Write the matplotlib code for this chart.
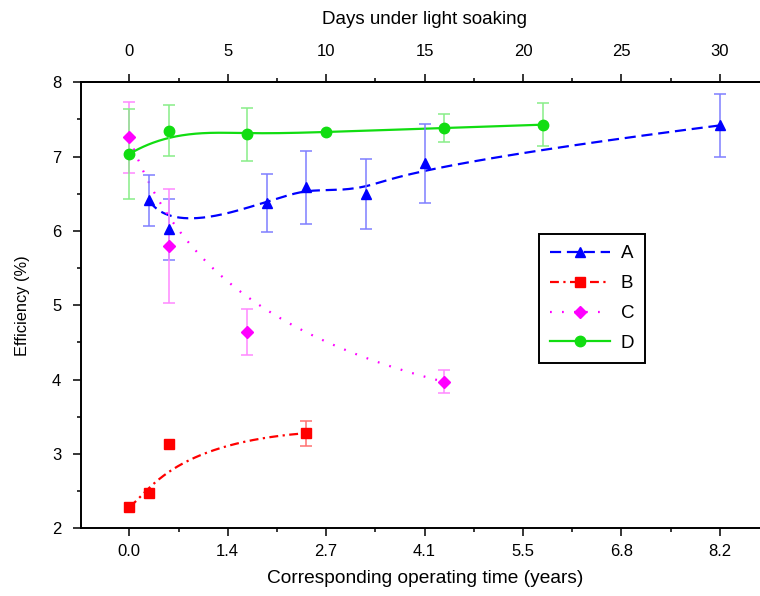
import numpy as np
import matplotlib
matplotlib.use("Agg")
import matplotlib.pyplot as plt
from matplotlib.lines import Line2D
from matplotlib.ticker import MultipleLocator, FixedLocator

plt.rcParams['font.family'] = ['Liberation Sans', 'DejaVu Sans']

# ---- data (x in days under light soaking) ----
a_days = [1, 2, 7, 9, 12, 15, 30]
a_eff = [6.41, 6.02, 6.37, 6.59, 6.50, 6.91, 7.42]
a_err = [0.34, 0.41, 0.39, 0.49, 0.47, 0.53, 0.42]

b_days = [0, 1, 2, 9]
b_eff = [2.29, 2.47, 3.14, 3.28]
b_err = [0.0, 0.0, 0.0, 0.17]

c_days = [0, 2, 6, 16]
c_eff = [7.26, 5.80, 4.645, 3.97]
c_err = [0.48, 0.77, 0.31, 0.155]

d_days = [0, 2, 6, 10, 16, 21]
d_eff = [7.035, 7.35, 7.30, 7.33, 7.385, 7.43]
d_err = [0.60, 0.34, 0.355, 0.0, 0.19, 0.29]

top_ticks = [0, 5, 10, 15, 20, 25, 30]
bottom_labels = ['0.0', '1.4', '2.7', '4.1', '5.5', '6.8', '8.2']
labels = ['A', 'B', 'C', 'D']


def bspline(xs, ys, n=300, k=3):
    """Clamped cubic B-spline using the data points as control points."""
    P = np.column_stack([xs, ys]).astype(float)
    m = len(P)
    k = min(k, m - 1)
    knots = np.concatenate([np.zeros(k), np.linspace(0, 1, m - k + 1), np.ones(k)])
    ts = np.linspace(0, 1 - 1e-9, n)
    out = []
    for t in ts:
        i = np.searchsorted(knots, t, side='right') - 1
        i = min(i, m - 1)
        d = [P[j + i - k].copy() for j in range(k + 1)]
        for r in range(1, k + 1):
            for j in range(k, r - 1, -1):
                den = knots[j + 1 + i - r] - knots[j + i - k]
                alpha = 0.0 if den == 0 else (t - knots[j + i - k]) / den
                d[j] = (1 - alpha) * d[j - 1] + alpha * d[j]
        out.append(d[k])
    out = np.array(out)
    return out[:, 0], out[:, 1]


fig = plt.figure(figsize=(7.6, 5.96), dpi=100)
ax = fig.add_axes([80.7 / 760, 67.7 / 596, 688.3 / 760, 446.0 / 596])

series = [
    dict(x=a_days, y=a_eff, e=a_err, c='#0000FF', ec='#7E7EFF', m='^', ms=7.5,
         ls=(0, (5, 2.6))),
    dict(x=b_days, y=b_eff, e=b_err, c='#FF0000', ec='#FF7070', m='s', ms=6.5,
         ls=(0, (4, 2, 1, 2))),
    dict(x=c_days, y=c_eff, e=c_err, c='#FF00FF', ec='#FF88FF', m='D', ms=6.5,
         ls=(0, (0.8, 4.6))),
    dict(x=d_days, y=d_eff, e=d_err, c='#11DD11', ec='#88EE88', m='o', ms=7.5,
         ls='-'),
]

handles = []
for s, lab in zip(series, labels):
    xx, yy = bspline(s['x'], s['y'])
    ax.plot(xx, yy, color=s['c'], lw=1.6, ls=s['ls'], zorder=2)
    err = np.array(s['e'])
    mask = err > 0
    ax.errorbar(np.array(s['x'])[mask], np.array(s['y'])[mask], yerr=err[mask],
                fmt='none', ecolor=s['ec'], elinewidth=1.1, capsize=4.5,
                capthick=1.1, zorder=3)
    ax.plot(s['x'], s['y'], ls='none', marker=s['m'], ms=s['ms'],
            color=s['c'], mec=s['c'], zorder=4)
    handles.append(Line2D([], [], color=s['c'], lw=1.6, ls=s['ls'],
                          marker=s['m'], ms=s['ms'], mec=s['c']))

ax.set_xlim(-2.47, 32.5)
ax.set_ylim(2, 8)

ax.xaxis.set_major_locator(FixedLocator(top_ticks))
ax.xaxis.set_minor_locator(MultipleLocator(2.5))
ax.set_xticklabels(bottom_labels)
ax.yaxis.set_major_locator(MultipleLocator(1))
ax.yaxis.set_minor_locator(MultipleLocator(0.5))

ax.tick_params(which='major', direction='out', length=6, width=1.1,
               labelsize=12, colors='black')
ax.tick_params(which='minor', direction='out', length=3, width=1.1)
ax.tick_params(axis='x', which='major', pad=5.5)
ax.tick_params(axis='y', which='major', pad=8)
for sp in ax.spines.values():
    sp.set_linewidth(1.4)

ax.set_xlabel('Corresponding operating time (years)', fontsize=13.8, labelpad=8)
ax.set_ylabel('Efficiency (%)', fontsize=11.8, labelpad=16)

top = ax.secondary_xaxis('top')
top.set_xticks(top_ticks)
top.set_xticklabels([str(t) for t in top_ticks])
top.xaxis.set_minor_locator(MultipleLocator(2.5))
top.tick_params(which='major', direction='out', length=6, width=1.1,
                labelsize=12, pad=11)
top.tick_params(which='minor', direction='out', length=3, width=1.1)
top.spines['top'].set_linewidth(1.4)
top.set_xlabel('Days under light soaking', fontsize=13.5, labelpad=14)

leg = ax.legend(handles, labels, loc='upper left',
                bbox_to_anchor=(0.666, 0.660), borderaxespad=0,
                fontsize=13.5, handlelength=3.2, handletextpad=0.55,
                labelspacing=0.68, borderpad=0.6, numpoints=1,
                fancybox=False, framealpha=1, edgecolor='black')
leg.get_frame().set_linewidth(1.4)

fig.savefig('out.png', dpi=100)
